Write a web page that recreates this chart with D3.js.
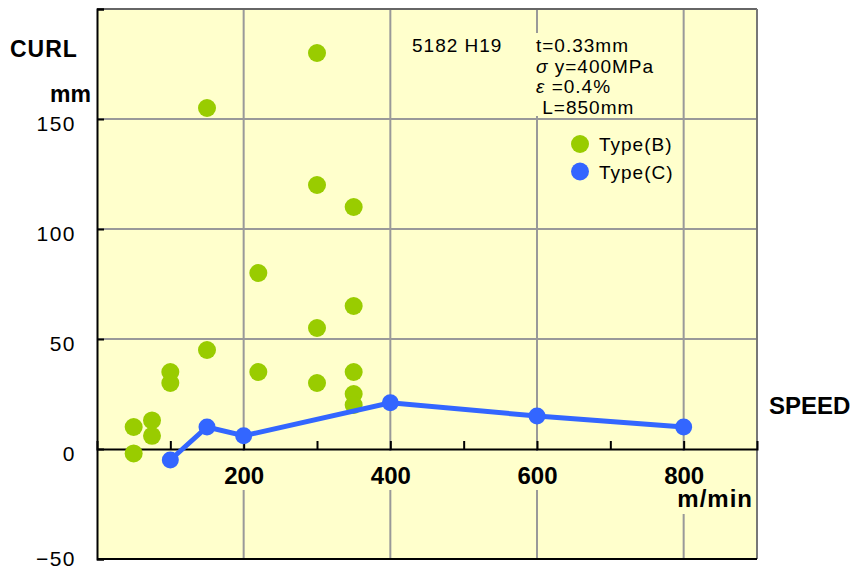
<!DOCTYPE html>
<html>
<head>
<meta charset="utf-8">
<script src="https://cdn.jsdelivr.net/npm/d3@7"></script>
<style>
  body { margin: 0; background: #fff; }
  text { font-family: "Liberation Sans", Arial, sans-serif; }
</style>
</head>
<body>
<svg width="854" height="569"></svg>
<script>
// Type(B) scatter points
const typeBSpeed = [50, 50, 75, 75, 100, 100, 150, 150, 220, 220, 300, 300, 300, 300, 350, 350, 350, 350, 350];
const typeBCurl  = [10, -2, 13, 6, 35, 30, 155, 45, 80, 35, 180, 120, 55, 30, 110, 65, 35, 25, 20];
// Type(C) line
const typeCSpeed = [100, 150, 200, 400, 600, 800];
const typeCCurl  = [-5, 10, 6, 21, 15, 10];

const xTicks = [100, 200, 300, 400, 500, 600, 700, 800];
const xLabels = [200, 400, 600, 800];
const yTicks = [-50, 0, 50, 100, 150, 200];
const yLabels = [-50, 0, 50, 100, 150];
const yGrid = [50, 100, 150];
const series = ['Type(B)', 'Type(C)'];
const colors = ['#99cc00', '#3366ff'];
const noteLeft = '5182 H19';
const noteLines = ['t=0.33mm', 'σ y=400MPa', 'ε =0.4%', ' L=850mm'];

const svg = d3.select('svg'),
  margin = {top: 9, right: 97, bottom: 10, left: 97},
  width = 757 - margin.left,
  height = 559 - margin.top;

const x = d3.scaleLinear().domain([0, 900]).range([0, width]),
  y = d3.scaleLinear().domain([-50, 200]).range([height, 0]);

const g = svg.append('g')
  .attr('transform', 'translate(' + margin.left + ',' + margin.top + ')');

g.append('rect')
  .attr('width', width).attr('height', height)
  .attr('fill', '#ffffcc');

// grid
g.selectAll('.hgrid').data(yGrid).enter().append('line')
  .attr('x1', 0).attr('x2', width)
  .attr('y1', d => y(d)).attr('y2', d => y(d))
  .attr('stroke', '#999').attr('stroke-width', 2);
g.selectAll('.vgrid').data(xLabels).enter().append('line')
  .attr('x1', d => x(d)).attr('x2', d => x(d))
  .attr('y1', 0).attr('y2', height)
  .attr('stroke', '#999').attr('stroke-width', 2);

// label backgrounds covering grid lines
g.selectAll('.lblbg').data(xLabels).enter().append('rect')
  .attr('x', d => x(d) - 23).attr('width', 46)
  .attr('y', y(0) + 2)
  .attr('height', d => d === 800 ? 63 : 39)
  .attr('fill', '#ffffcc');
g.append('rect')
  .attr('x', 405 - margin.left).attr('y', 33 - margin.top)
  .attr('width', 275).attr('height', 83)
  .attr('fill', '#ffffcc');

// borders
g.append('line').attr('x1', 0).attr('x2', width).attr('y1', 0).attr('y2', 0)
  .attr('stroke', '#666').attr('stroke-width', 2);
g.append('line').attr('x1', width).attr('x2', width).attr('y1', 0).attr('y2', height)
  .attr('stroke', '#777').attr('stroke-width', 2);
g.append('line').attr('x1', 0).attr('x2', width).attr('y1', height).attr('y2', height)
  .attr('stroke', '#000').attr('stroke-width', 2);

// y axis
const yAxis = g.append('g')
  .call(d3.axisLeft(y).tickValues(yTicks).tickSize(-7).tickPadding(21)
    .tickFormat(d => yLabels.includes(d) ? d3.format('')(d) : ''));
yAxis.select('.domain').attr('stroke', '#000').attr('stroke-width', 2);
yAxis.selectAll('.tick line').attr('stroke', '#000').attr('stroke-width', 2);
yAxis.selectAll('.tick text')
  .attr('dy', d => d === -50 ? '0.3em' : '0.55em')
  .style('font-size', '21px').style('letter-spacing', '1.5px')
  .style('font-family', '"Liberation Sans", Arial, sans-serif')
  .attr('fill', '#000');

// x axis at zero
const xAxis = g.append('g')
  .attr('transform', 'translate(0,' + y(0) + ')')
  .call(d3.axisBottom(x).tickValues(xTicks).tickSize(-8).tickPadding(18)
    .tickFormat(d => xLabels.includes(d) ? d : ''));
xAxis.select('.domain').attr('stroke', '#000').attr('stroke-width', 2);
xAxis.selectAll('.tick line').attr('stroke', '#000').attr('stroke-width', 2);
xAxis.selectAll('.tick text')
  .style('font-size', '24px').style('font-weight', 'bold')
  .style('font-family', '"Liberation Sans", Arial, sans-serif')
  .attr('fill', '#000');

// Type(B) points
g.selectAll('.ptB').data(typeBSpeed).enter().append('circle')
  .attr('cx', d => x(d))
  .attr('cy', (d, i) => y(typeBCurl[i]))
  .attr('r', 9)
  .attr('fill', colors[0]);

// Type(C) line and points
const lineC = d3.line().x(d => x(d[0])).y(d => y(d[1]));
const dataC = typeCSpeed.map((s, i) => [s, typeCCurl[i]]);
g.append('path').datum(dataC)
  .attr('d', lineC)
  .attr('fill', 'none').attr('stroke', colors[1]).attr('stroke-width', 5);
g.selectAll('.ptC').data(dataC).enter().append('circle')
  .attr('cx', d => x(d[0])).attr('cy', d => y(d[1]))
  .attr('r', 8.5).attr('fill', colors[1]);

// axis titles
svg.append('text').attr('x', 10).attr('y', 57).text('CURL')
  .style('font-size', '23px').style('font-weight', 'bold').style('letter-spacing', '1px');
svg.append('text').attr('x', 91).attr('y', 102).attr('text-anchor', 'end').text('mm')
  .style('font-size', '23px').style('font-weight', 'bold');
svg.append('text').attr('x', 769).attr('y', 414).text('SPEED')
  .style('font-size', '24px').style('font-weight', 'bold');
svg.append('text').attr('x', 753).attr('y', 507).attr('text-anchor', 'end').text('m/min')
  .style('font-size', '24px').style('font-weight', 'bold').style('letter-spacing', '1px');

// note
svg.append('text').attr('x', 412).attr('y', 52).text(noteLeft)
  .style('font-size', '19px').style('letter-spacing', '1px');
const notes = svg.selectAll('.note').data(noteLines).enter().append('text')
  .attr('x', 536).attr('y', (d, i) => 52 + i * 20.7)
  .attr('xml:space', 'preserve')
  .style('white-space', 'pre')
  .style('font-size', '19px').style('letter-spacing', '1px');
notes.each(function (d) {
  const t = d3.select(this);
  if (/^[σε]/.test(d)) {
    t.append('tspan').style('font-style', 'italic').text(d[0]);
    t.append('tspan').text(d.slice(1));
  } else {
    t.text(d);
  }
});

// legend
const leg = svg.selectAll('.leg').data(series).enter().append('g')
  .attr('transform', (d, i) => 'translate(580,' + (144 + i * 27.5) + ')');
leg.append('circle').attr('r', 9).attr('fill', (d, i) => colors[i]);
leg.append('text').attr('x', 19).attr('y', 7).text(d => d)
  .style('font-size', '19px').style('letter-spacing', '1px');
</script>
</body>
</html>
